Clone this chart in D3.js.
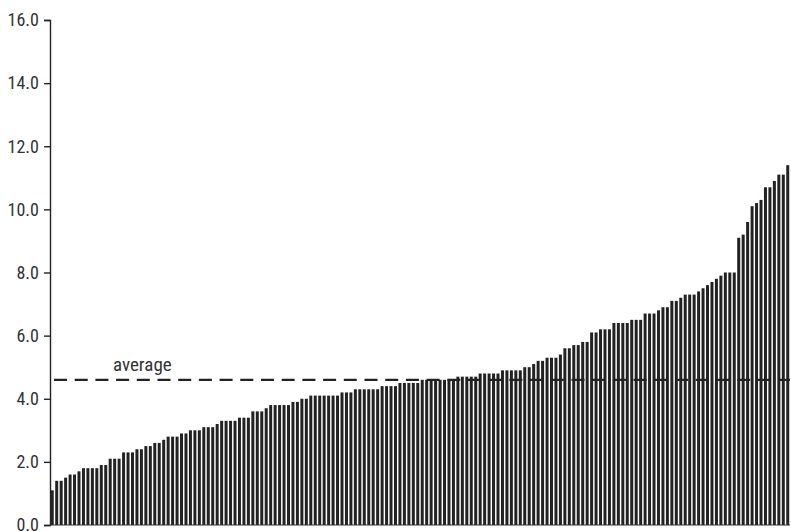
<!DOCTYPE html>
<html>
<head>
<meta charset="utf-8">
<script src="https://cdn.jsdelivr.net/npm/d3@7"></script>
<style>
  body { margin: 0; background: #fff; }
  svg text { font-family: "Liberation Sans Narrow", "Roboto Condensed", "DejaVu Sans Condensed", sans-serif; fill: #333; }
</style>
</head>
<body>
<div id="chart"></div>
<script>
/*
 * Sorted values, one bar per unit, with the average as a dashed line.
 */
var values = [
  1.1, 1.4, 1.4, 1.5, 1.6, 1.6, 1.7, 1.8, 1.8, 1.8,
  1.8, 1.9, 1.9, 2.1, 2.1, 2.1, 2.3, 2.3, 2.3, 2.4,
  2.4, 2.5, 2.5, 2.6, 2.6, 2.7, 2.8, 2.8, 2.8, 2.9,
  2.9, 3.0, 3.0, 3.0, 3.1, 3.1, 3.1, 3.2, 3.3, 3.3,
  3.3, 3.3, 3.4, 3.4, 3.4, 3.6, 3.6, 3.6, 3.7, 3.8,
  3.8, 3.8, 3.8, 3.8, 3.9, 3.9, 4.0, 4.0, 4.1, 4.1,
  4.1, 4.1, 4.1, 4.1, 4.1, 4.2, 4.2, 4.2, 4.3, 4.3,
  4.3, 4.3, 4.3, 4.3, 4.4, 4.4, 4.4, 4.4, 4.5, 4.5,
  4.5, 4.5, 4.5, 4.6, 4.6, 4.6, 4.6, 4.6, 4.6, 4.6,
  4.6, 4.7, 4.7, 4.7, 4.7, 4.7, 4.8, 4.8, 4.8, 4.8,
  4.8, 4.9, 4.9, 4.9, 4.9, 4.9, 5.0, 5.0, 5.1, 5.2,
  5.2, 5.3, 5.3, 5.3, 5.4, 5.6, 5.6, 5.7, 5.7, 5.8,
  5.8, 6.1, 6.1, 6.2, 6.2, 6.2, 6.4, 6.4, 6.4, 6.4,
  6.5, 6.5, 6.5, 6.7, 6.7, 6.7, 6.8, 6.9, 6.9, 7.1,
  7.1, 7.2, 7.3, 7.3, 7.3, 7.4, 7.5, 7.6, 7.7, 7.8,
  7.9, 8.0, 8.0, 8.0, 9.1, 9.2, 9.6, 10.1, 10.2, 10.3,
  10.7, 10.7, 10.9, 11.1, 11.1, 11.4
];
var yTicks = [0, 2, 4, 6, 8, 10, 12, 14, 16];
var average = 4.6;
var averageLabel = "average";

var width = 791;
var height = 531;

var svg = d3.select("#chart").append("svg")
    .attr("width", width)
    .attr("height", height);

var x = d3.scaleBand()
    .domain(d3.range(values.length))
    .range([50, 790])
    .paddingInner(0.33)
    .paddingOuter(0.17);

var y = d3.scaleLinear()
    .domain([0, 16])
    .range([525, 20]);

// pylväät
svg.append("g")
  .selectAll("rect")
  .data(values)
  .join("rect")
    .attr("x", function(d, i) { return x(i); })
    .attr("y", function(d) { return y(d); })
    .attr("width", x.bandwidth())
    .attr("height", function(d) { return y(0) - y(d); })
    .attr("fill", "#222");

// y-akseli
var yAxis = svg.append("g")
    .attr("transform", "translate(50,0)")
    .call(d3.axisLeft(y).tickValues(yTicks).tickFormat(d3.format(".1f")).tickSize(6).tickPadding(5));

yAxis.select(".domain").attr("stroke", "#222").attr("stroke-width", 1.4);
yAxis.selectAll(".tick line").attr("stroke", "#222").attr("stroke-width", 1.4);
yAxis.selectAll(".tick text")
    .attr("font-size", 18)
    .attr("fill", "#333")
    .style("font-family", null);

// pohjaviiva
svg.append("line")
    .attr("x1", 50).attr("x2", 790)
    .attr("y1", y(0)).attr("y2", y(0))
    .attr("stroke", "#333")
    .attr("stroke-width", 1.2);

// keskiarvo
svg.append("line")
    .attr("x1", 54).attr("x2", 790)
    .attr("y1", y(average)).attr("y2", y(average))
    .attr("stroke", "#222")
    .attr("stroke-width", 2.2)
    .attr("stroke-dasharray", "13,7.7");

svg.append("text")
    .attr("x", 113)
    .attr("y", y(average) - 9)
    .attr("font-size", 19)
    .text(averageLabel);
</script>
</body>
</html>
